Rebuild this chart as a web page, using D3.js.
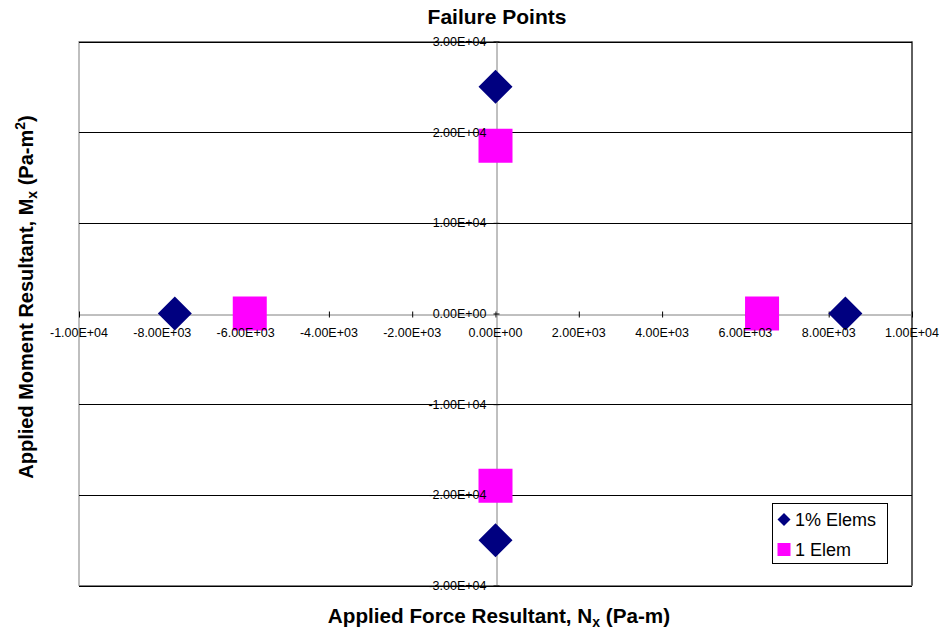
<!DOCTYPE html>
<html>
<head>
<meta charset="utf-8">
<script src="https://cdn.jsdelivr.net/npm/d3@7"></script>
<style>
  html, body { margin: 0; padding: 0; background: #fff; }
  svg { display: block; font-family: "Liberation Sans", Arial, sans-serif; }
</style>
</head>
<body>
<svg id="chart" width="939" height="630"></svg>
<script>
// Failure points of the two mesh models in the Nx–Mx load plane
const seriesNames = ["1% Elems", "1 Elem"];
const seriesColors = ["#000080", "#ff00ff"];
const seriesShapes = ["diamond", "square"];

// Applied force resultant Nx (Pa-m) and moment resultant Mx (Pa-m^2)
const elemsPctNx = [0, 0, -7700, 8400];
const elemsPctMx = [25000, -25000, 0, 0];
const oneElemNx = [0, 0, -5900, 6400];
const oneElemMx = [18500, -19000, 0, 0];

const xTicks = [-10000, -8000, -6000, -4000, -2000, 0, 2000, 4000, 6000, 8000, 10000];
const yTicks = [-30000, -20000, -10000, 0, 10000, 20000, 30000];
const xTickLabels = ["-1.00E+04", "-8.00E+03", "-6.00E+03", "-4.00E+03", "-2.00E+03", "0.00E+00",
                     "2.00E+03", "4.00E+03", "6.00E+03", "8.00E+03", "1.00E+04"];
const yTickLabels = ["-3.00E+04", "-2.00E+04", "-1.00E+04", "0.00E+00", "1.00E+04", "2.00E+04", "3.00E+04"];

const series = [
  { name: seriesNames[0], color: seriesColors[0], shape: seriesShapes[0],
    points: elemsPctNx.map((nx, i) => ({ nx, mx: elemsPctMx[i] })) },
  { name: seriesNames[1], color: seriesColors[1], shape: seriesShapes[1],
    points: oneElemNx.map((nx, i) => ({ nx, mx: oneElemMx[i] })) }
];

const svg = d3.select("#chart");
const plot = { left: 79, right: 912, top: 41.5, bottom: 585.5 };

const x = d3.scaleLinear().domain([-10000, 10000]).range([plot.left, plot.right]);
const y = d3.scaleLinear().domain([-30000, 30000]).range([plot.bottom, plot.top]);

// Plot frame
svg.append("rect")
  .attr("x", plot.left).attr("y", plot.top)
  .attr("width", plot.right - plot.left).attr("height", plot.bottom - plot.top)
  .attr("fill", "#fff").attr("stroke", "#808080").attr("stroke-width", 1);

// Horizontal gridlines
svg.append("g").selectAll("line")
  .data(yTicks.filter(d => d !== 0))
  .join("line")
  .attr("x1", plot.left).attr("x2", plot.right)
  .attr("y1", d => Math.round(y(d)) + 0.5).attr("y2", d => Math.round(y(d)) + 0.5)
  .attr("stroke", "#000").attr("stroke-width", 1);

svg.append("line")
  .attr("x1", plot.right).attr("x2", plot.right)
  .attr("y1", plot.top).attr("y2", plot.bottom)
  .attr("stroke", "#000").attr("stroke-width", 1);

// Axes crossing at the origin
const x0 = Math.round(x(0)) + 0.5;
const y0 = Math.round(y(0)) + 0.5;

const xAxis = d3.axisBottom(x).tickValues(xTicks)
  .tickFormat((d, i) => xTickLabels[i]).tickSize(0).tickPadding(0);
const yAxis = d3.axisLeft(y).tickValues(yTicks)
  .tickFormat((d, i) => yTickLabels[i]).tickSize(0).tickPadding(0);

const xg = svg.append("g").attr("transform", `translate(0,${y0})`).call(xAxis);
const yg = svg.append("g").attr("transform", `translate(${x0},0)`).call(yAxis);

[xg, yg].forEach(g => {
  g.select(".domain").attr("stroke", "#808080");
  g.selectAll(".tick text").remove();
});
xg.selectAll(".tick").append("line").attr("y1", -3).attr("y2", 3).attr("stroke", "#000");
yg.selectAll(".tick").append("line").attr("x1", -3).attr("x2", 3).attr("stroke", "#000");

// Markers
const markerSize = 34;
const symbolFor = (shape, size) => shape === "diamond"
  ? d3.symbol().type(d3.symbolSquare).size(size * size / 2)()
  : d3.symbol().type(d3.symbolSquare).size(size * size)();

series.forEach(s => {
  svg.append("g").selectAll("path")
    .data(s.points)
    .join("path")
    .attr("d", symbolFor(s.shape, markerSize))
    .attr("transform", d => `translate(${x(d.nx)},${y(d.mx)})` + (s.shape === "diamond" ? " rotate(45)" : ""))
    .attr("fill", s.color);
});

// Tick labels, drawn above the markers
svg.append("g").selectAll("text")
  .data(xTicks)
  .join("text")
  .attr("x", d => x(d)).attr("y", y0 + 22)
  .attr("text-anchor", "middle")
  .attr("font-size", 12.5)
  .text((d, i) => xTickLabels[i]);

svg.append("g").selectAll("text")
  .data(yTicks)
  .join("text")
  .attr("x", x0 - 10).attr("y", d => y(d)).attr("dy", "0.35em")
  .attr("text-anchor", "end")
  .attr("font-size", 12.5)
  .text((d, i) => yTickLabels[i]);

// Title
svg.append("text")
  .attr("x", 497).attr("y", 24)
  .attr("text-anchor", "middle")
  .attr("font-size", 21).attr("font-weight", "bold")
  .text("Failure Points");

// X axis title
const xt = svg.append("text")
  .attr("x", 499).attr("y", 623)
  .attr("text-anchor", "middle")
  .attr("font-size", 20.7).attr("font-weight", "bold");
xt.append("tspan").text("Applied Force Resultant, N");
xt.append("tspan").attr("font-size", 14).attr("dy", 4).text("x");
xt.append("tspan").attr("dy", -4).text(" (Pa-m)");

// Y axis title
const yt = svg.append("text")
  .attr("transform", "translate(33,297) rotate(-90)")
  .attr("text-anchor", "middle")
  .attr("font-size", 20).attr("font-weight", "bold");
yt.append("tspan").text("Applied Moment Resultant, M");
yt.append("tspan").attr("font-size", 14).attr("dy", 4).text("x");
yt.append("tspan").attr("dy", -4).text(" (Pa-m");
yt.append("tspan").attr("font-size", 14).attr("dy", -8).text("2");
yt.append("tspan").attr("dy", 8).text(")");

// Legend
const legend = svg.append("g");
legend.append("rect")
  .attr("x", 772.5).attr("y", 503.5).attr("width", 115).attr("height", 60)
  .attr("fill", "#fff").attr("stroke", "#000").attr("stroke-width", 1);
series.forEach((s, i) => {
  const cy = 519.5 + i * 30;
  legend.append("path")
    .attr("d", symbolFor(s.shape, 13))
    .attr("transform", `translate(784,${cy})` + (s.shape === "diamond" ? " rotate(45)" : ""))
    .attr("fill", s.color);
  legend.append("text")
    .attr("x", 795).attr("y", cy).attr("dy", "0.36em")
    .attr("font-size", 18)
    .text(s.name);
});
</script>
</body>
</html>
